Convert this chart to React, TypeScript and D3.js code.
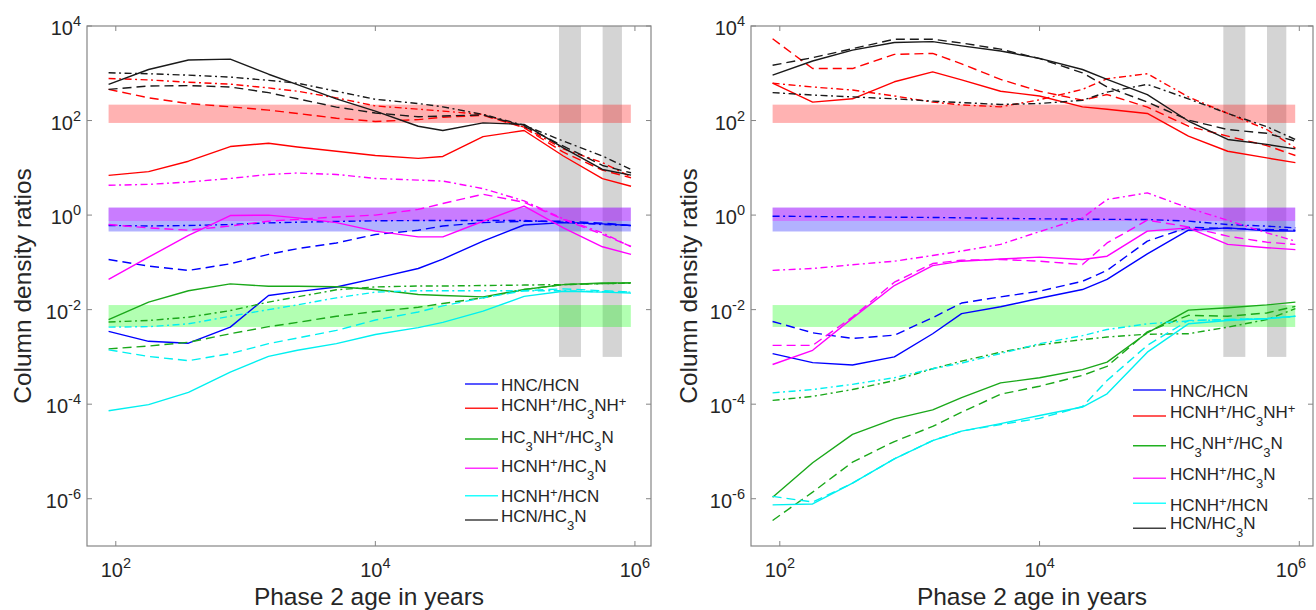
import React from 'react';
import * as d3 from 'd3';

// Model ages (years)
const ages = [88, 179, 363, 762, 1503, 2510, 5010, 10000, 21400, 33100, 67600, 140000, 281000, 562000, 933000];

// ---------- Left panel ----------
const L_HNC_HCN_solid = [-2.46, -2.67, -2.71, -2.37, -1.70, -1.62, -1.52, -1.34, -1.13, -0.93, -0.55, -0.21, -0.16, -0.185, -0.22];
const L_HNC_HCN_dashed = [-0.94, -1.08, -1.17, -1.03, -0.83, -0.71, -0.59, -0.41, -0.32, -0.23, -0.16, -0.13, -0.13, -0.17, -0.22];
const L_HNC_HCN_dashdot = [-0.22, -0.23, -0.22, -0.20, -0.165, -0.15, -0.135, -0.12, -0.115, -0.115, -0.115, -0.115, -0.15, -0.20, -0.22];

const L_HCNHp_HC3NHp_solid = [0.84, 0.92, 1.14, 1.45, 1.52, 1.44, 1.35, 1.26, 1.20, 1.24, 1.66, 1.79, 1.25, 0.77, 0.61];
const L_HCNHp_HC3NHp_dashed = [2.66, 2.48, 2.36, 2.29, 2.22, 2.15, 2.05, 1.98, 2.02, 2.07, 2.11, 1.85, 1.33, 0.95, 0.79];
const L_HCNHp_HC3NHp_dashdot = [2.89, 2.86, 2.81, 2.77, 2.69, 2.62, 2.48, 2.31, 2.24, 2.20, 2.13, 1.86, 1.40, 1.11, 0.81];

const L_HC3NHp_HC3N_solid = [-2.21, -1.84, -1.60, -1.455, -1.505, -1.505, -1.515, -1.575, -1.68, -1.70, -1.73, -1.575, -1.47, -1.434, -1.434];
const L_HC3NHp_HC3N_dashed = [-2.83, -2.77, -2.69, -2.51, -2.36, -2.27, -2.14, -2.04, -1.95, -1.87, -1.75, -1.575, -1.47, -1.45, -1.434];
const L_HC3NHp_HC3N_dashdot = [-2.26, -2.23, -2.16, -2.02, -1.84, -1.73, -1.58, -1.52, -1.50, -1.50, -1.49, -1.48, -1.47, -1.45, -1.44];

const L_HCNHp_HC3N_solid = [-1.36, -0.89, -0.43, -0.01, 0.0, -0.06, -0.16, -0.34, -0.46, -0.46, -0.13, 0.19, -0.27, -0.67, -0.83];
const L_HCNHp_HC3N_dashed = [-0.20, -0.27, -0.32, -0.23, -0.13, -0.09, -0.04, 0.0, 0.12, 0.245, 0.44, 0.27, -0.09, -0.41, -0.66];
const L_HCNHp_HC3N_dashdot = [0.63, 0.65, 0.70, 0.775, 0.86, 0.89, 0.86, 0.775, 0.74, 0.72, 0.56, 0.30, -0.08, -0.375, -0.67];

const L_HCNHp_HCN_solid = [-4.14, -4.01, -3.75, -3.32, -2.99, -2.86, -2.72, -2.525, -2.38, -2.27, -2.03, -1.72, -1.61, -1.63, -1.65];
const L_HCNHp_HCN_dashed = [-2.85, -2.99, -3.08, -2.93, -2.72, -2.60, -2.44, -2.22, -2.05, -1.92, -1.75, -1.60, -1.56, -1.60, -1.63];
const L_HCNHp_HCN_dashdot = [-2.37, -2.36, -2.30, -2.14, -2.00, -1.90, -1.75, -1.63, -1.60, -1.60, -1.60, -1.60, -1.60, -1.62, -1.63];

const L_HCN_HC3N_solid = [2.765, 3.08, 3.28, 3.30, 2.98, 2.76, 2.46, 2.20, 1.88, 1.79, 1.95, 1.92, 1.42, 0.965, 0.845];
const L_HCN_HC3N_dashed = [2.66, 2.73, 2.74, 2.71, 2.59, 2.46, 2.285, 2.16, 2.08, 2.095, 2.12, 1.88, 1.46, 1.05, 0.895];
const L_HCN_HC3N_dashdot = [3.01, 2.99, 2.96, 2.92, 2.85, 2.79, 2.62, 2.45, 2.36, 2.29, 2.13, 1.90, 1.565, 1.25, 0.965];

// ---------- Right panel ----------
const R_HNC_HCN_solid = [-2.93, -3.12, -3.17, -3.00, -2.51, -2.085, -1.94, -1.76, -1.575, -1.36, -0.82, -0.32, -0.27, -0.33, -0.34];
const R_HNC_HCN_dashed = [-2.25, -2.49, -2.61, -2.54, -2.17, -1.86, -1.73, -1.61, -1.40, -1.17, -0.55, -0.26, -0.28, -0.305, -0.32];
const R_HNC_HCN_dashdot = [-0.023, -0.03, -0.037, -0.045, -0.05, -0.058, -0.07, -0.079, -0.085, -0.09, -0.093, -0.128, -0.20, -0.234, -0.27];

const R_HCNHp_HC3NHp_solid = [2.79, 2.39, 2.46, 2.82, 3.03, 2.86, 2.62, 2.52, 2.29, 2.24, 2.15, 1.67, 1.35, 1.21, 1.11];
const R_HCNHp_HC3NHp_dashed = [3.73, 3.10, 3.10, 3.40, 3.42, 3.20, 2.87, 2.62, 2.43, 2.55, 2.285, 1.88, 1.67, 1.47, 1.26];
const R_HCNHp_HC3NHp_dashdot = [2.79, 2.71, 2.645, 2.52, 2.39, 2.33, 2.29, 2.44, 2.66, 2.885, 2.99, 2.50, 2.15, 1.81, 1.42];

const R_HC3NHp_HC3N_solid = [-5.97, -5.24, -4.64, -4.31, -4.12, -3.86, -3.55, -3.44, -3.27, -3.11, -2.49, -2.01, -1.96, -1.90, -1.84];
const R_HC3NHp_HC3N_dashed = [-6.46, -5.86, -5.225, -4.79, -4.47, -4.17, -3.79, -3.62, -3.39, -3.20, -2.47, -2.12, -2.14, -2.07, -1.93];
const R_HC3NHp_HC3N_dashdot = [-3.92, -3.835, -3.69, -3.50, -3.25, -3.09, -2.90, -2.745, -2.635, -2.58, -2.52, -2.51, -2.37, -2.21, -1.98];

const R_HCNHp_HC3N_solid = [-3.16, -2.86, -2.18, -1.49, -1.07, -0.975, -0.93, -0.89, -0.94, -0.87, -0.34, -0.27, -0.62, -0.69, -0.73];
const R_HCNHp_HC3N_dashed = [-2.755, -2.755, -2.155, -1.42, -1.025, -0.954, -0.94, -0.975, -1.046, -0.59, -0.107, -0.25, -0.446, -0.573, -0.62];
const R_HCNHp_HC3N_dashdot = [-1.17, -1.13, -1.05, -0.975, -0.855, -0.76, -0.62, -0.35, -0.06, 0.33, 0.47, 0.15, -0.11, -0.375, -0.55];

const R_HCNHp_HCN_solid = [-6.13, -6.11, -5.67, -5.155, -4.77, -4.57, -4.41, -4.24, -4.06, -3.78, -2.90, -2.30, -2.23, -2.19, -2.14];
const R_HCNHp_HCN_dashed = [-5.95, -6.07, -5.67, -5.155, -4.77, -4.57, -4.43, -4.30, -4.05, -3.50, -2.755, -2.23, -2.21, -2.19, -2.14];
const R_HCNHp_HCN_dashdot = [-3.76, -3.69, -3.58, -3.44, -3.25, -3.13, -2.93, -2.72, -2.55, -2.42, -2.30, -2.24, -2.21, -2.19, -2.14];

const R_HCN_HC3N_solid = [2.96, 3.26, 3.49, 3.65, 3.67, 3.58, 3.47, 3.315, 3.08, 2.87, 2.55, 1.99, 1.60, 1.495, 1.40];
const R_HCN_HC3N_dashed = [3.17, 3.33, 3.52, 3.72, 3.72, 3.64, 3.51, 3.31, 3.01, 2.71, 2.39, 2.01, 1.81, 1.73, 1.565];
const R_HCN_HC3N_dashdot = [2.59, 2.54, 2.50, 2.46, 2.41, 2.38, 2.34, 2.36, 2.43, 2.60, 2.765, 2.46, 2.15, 1.87, 1.60];

// Observed ranges (horizontal bands) and age ranges (vertical grey bars)
const bandAges = [88, 930000];
const redBand = [89, 217];
const blueBand = [0.45, 1.44];
const magentaBand = [0.75, 1.44];
const greenBand = [0.0043, 0.0125];
const greyBars = [[2.6e5, 3.84e5], [5.64e5, 7.94e5]];
const greyBarRatio = [1e-3, 1e4];

const xTickExps = [2, 4, 6];
const yTickExps = [4, 2, 0, -2, -4, -6];

type Seg = [string, 'n' | 'sup' | 'sub'];
const legendLabels: Seg[][] = [
  [['HNC/HCN', 'n']],
  [['HCNH', 'n'], ['+', 'sup'], ['/HC', 'n'], ['3', 'sub'], ['NH', 'n'], ['+', 'sup']],
  [['HC', 'n'], ['3', 'sub'], ['NH', 'n'], ['+', 'sup'], ['/HC', 'n'], ['3', 'sub'], ['N', 'n']],
  [['HCNH', 'n'], ['+', 'sup'], ['/HC', 'n'], ['3', 'sub'], ['N', 'n']],
  [['HCNH', 'n'], ['+', 'sup'], ['/HCN', 'n']],
  [['HCN/HC', 'n'], ['3', 'sub'], ['N', 'n']],
];

const COLORS = ['#0000ff', '#ff0000', '#1aa81a', '#ff00ff', '#00f0f0', '#1a1a1a'];
const LEGEND_COLORS = ['#2020ff', '#ff2020', '#20b020', '#ff30ff', '#20ffff', '#404040'];
const DASH: Record<string, string | undefined> = { solid: undefined, dashed: '9 5', dashdot: '7 3.5 2 3.5' };

const leftSeries = [
  [L_HNC_HCN_solid, L_HNC_HCN_dashed, L_HNC_HCN_dashdot],
  [L_HCNHp_HC3NHp_solid, L_HCNHp_HC3NHp_dashed, L_HCNHp_HC3NHp_dashdot],
  [L_HC3NHp_HC3N_solid, L_HC3NHp_HC3N_dashed, L_HC3NHp_HC3N_dashdot],
  [L_HCNHp_HC3N_solid, L_HCNHp_HC3N_dashed, L_HCNHp_HC3N_dashdot],
  [L_HCNHp_HCN_solid, L_HCNHp_HCN_dashed, L_HCNHp_HCN_dashdot],
  [L_HCN_HC3N_solid, L_HCN_HC3N_dashed, L_HCN_HC3N_dashdot],
];
const rightSeries = [
  [R_HNC_HCN_solid, R_HNC_HCN_dashed, R_HNC_HCN_dashdot],
  [R_HCNHp_HC3NHp_solid, R_HCNHp_HC3NHp_dashed, R_HCNHp_HC3NHp_dashdot],
  [R_HC3NHp_HC3N_solid, R_HC3NHp_HC3N_dashed, R_HC3NHp_HC3N_dashdot],
  [R_HCNHp_HC3N_solid, R_HCNHp_HC3N_dashed, R_HCNHp_HC3N_dashdot],
  [R_HCNHp_HCN_solid, R_HCNHp_HCN_dashed, R_HCNHp_HCN_dashdot],
  [R_HCN_HC3N_solid, R_HCN_HC3N_dashed, R_HCN_HC3N_dashdot],
];

const FONT = "'Liberation Sans', Arial, Helvetica, sans-serif";
const TEXT = '#262626';
const AXIS = '#858585';

interface PanelCfg {
  x0: number; x1: number; xMax: number; yLabelX: number;
  legLineX: [number, number]; legTextX: number; legLineY: number[]; legTextY: number[];
  series: number[][][];
}

const Y0 = 26, Y1 = 546;

function SegText({ x, y, segs, size, small, supDy, subDy, anchor }: any) {
  let cur = 0;
  return (
    <text x={x} y={y} fontSize={size} fontFamily={FONT} fill={TEXT} textAnchor={anchor || 'start'}>
      {segs.map((s: Seg, i: number) => {
        const target = s[1] === 'sup' ? supDy : s[1] === 'sub' ? subDy : 0;
        const dy = target - cur;
        cur = target;
        return (
          <tspan key={i} dy={dy} fontSize={s[1] === 'n' ? size : small}>{s[0]}</tspan>
        );
      })}
    </text>
  );
}

function Panel({ cfg }: { cfg: PanelCfg }) {
  const x = d3.scaleLog().domain([60, cfg.xMax]).range([cfg.x0, cfg.x1]);
  const y = d3.scaleLog().domain([1e-7, 1e4]).range([Y1, Y0]);
  const line = d3.line<[number, number]>().x(d => x(d[0])).y(d => y(d[1]));
  const styles = ['solid', 'dashed', 'dashdot'];
  const bandRect = (r: number[], fill: string, op: number, key: string) => (
    <rect key={key} x={x(bandAges[0])} width={x(bandAges[1]) - x(bandAges[0])}
      y={y(r[1])} height={y(r[0]) - y(r[1])} fill={fill} fillOpacity={op} />
  );
  const tick = 5;
  return (
    <g>
      {greyBars.map((b, i) => (
        <rect key={'g' + i} x={x(b[0])} width={x(b[1]) - x(b[0])} y={y(greyBarRatio[1])}
          height={y(greyBarRatio[0]) - y(greyBarRatio[1])} fill="#808080" fillOpacity={0.34} />
      ))}
      {bandRect(redBand, '#ff0000', 0.3, 'red')}
      {bandRect(blueBand, '#0000ff', 0.3, 'blue')}
      {bandRect(magentaBand, '#ff00ff', 0.3, 'mag')}
      {bandRect(greenBand, '#00ff00', 0.3, 'green')}
      {cfg.series.map((grp, ci) => grp.map((vals, si) => (
        <path key={ci + '-' + si}
          d={line(vals.map((e, k) => [ages[k], Math.pow(10, e)] as [number, number])) || ''}
          fill="none" stroke={COLORS[ci]} strokeWidth={1.4}
          strokeDasharray={DASH[styles[si]]} strokeLinejoin="round" />
      )))}
      {/* axes box */}
      <rect x={cfg.x0} y={Y0} width={cfg.x1 - cfg.x0} height={Y1 - Y0} fill="none" stroke={AXIS} strokeWidth={1.2} />
      {xTickExps.map(e => {
        const px = x(Math.pow(10, e));
        const halfW = 17;
        const cx = Math.min(px, 1308 - halfW);
        return (
          <g key={'xt' + e}>
            <line x1={px} x2={px} y1={Y1} y2={Y1 - tick} stroke={AXIS} strokeWidth={1} />
            <line x1={px} x2={px} y1={Y0} y2={Y0 + tick} stroke={AXIS} strokeWidth={1} />
            <SegText x={cx} y={577} segs={[['10', 'n'], [String(e), 'sup']]} size={20} small={14.5} supDy={-9} subDy={0} anchor="middle" />
          </g>
        );
      })}
      {yTickExps.map(e => {
        const py = y(Math.pow(10, e));
        return (
          <g key={'yt' + e}>
            <line x1={cfg.x0} x2={cfg.x0 + tick} y1={py} y2={py} stroke={AXIS} strokeWidth={1} />
            <line x1={cfg.x1} x2={cfg.x1 - tick} y1={py} y2={py} stroke={AXIS} strokeWidth={1} />
            <SegText x={cfg.x0 - 6} y={py + 9} segs={[['10', 'n'], [String(e), 'sup']]} size={20} small={14.5} supDy={-9} subDy={0} anchor="end" />
          </g>
        );
      })}
      <text x={(cfg.x0 + cfg.x1) / 2} y={605} fontSize={24.5} fontFamily={FONT} fill={TEXT} textAnchor="middle">Phase 2 age in years</text>
      <text transform={`translate(${cfg.yLabelX},${(Y0 + Y1) / 2}) rotate(-90)`} fontSize={24.5} fontFamily={FONT} fill={TEXT} textAnchor="middle">Column density ratios</text>
      {legendLabels.map((segs, i) => (
        <g key={'leg' + i}>
          <line x1={cfg.legLineX[0]} x2={cfg.legLineX[1]} y1={cfg.legLineY[i]} y2={cfg.legLineY[i]} stroke={LEGEND_COLORS[i]} strokeWidth={1.6} />
          <SegText x={cfg.legTextX} y={cfg.legTextY[i]} segs={segs} size={17} small={13} supDy={-5} subDy={8} />
        </g>
      ))}
    </g>
  );
}

const leftCfg: PanelCfg = {
  x0: 87, x1: 651, xMax: 1.33e6, yLabelX: 31,
  legLineX: [465, 498], legTextX: 501,
  legLineY: [384, 408.3, 439, 468.3, 495.7, 520],
  legTextY: [390.7, 410.7, 442.7, 472.3, 502.3, 521.7],
  series: leftSeries,
};
const rightCfg: PanelCfg = {
  x0: 751, x1: 1313, xMax: 1.275e6, yLabelX: 697,
  legLineX: [1133, 1166], legTextX: 1170,
  legLineY: [390, 416, 445.7, 478.3, 503.3, 528.3],
  legTextY: [396.7, 418.3, 449.3, 480, 510.7, 529.3],
  series: rightSeries,
};

export default function App() {
  return (
    <div style={{ position: 'absolute', left: 0, top: 0 }}>
      <svg width={1316} height={610} style={{ display: 'block', background: '#fff' }}>
        <Panel cfg={leftCfg} />
        <Panel cfg={rightCfg} />
      </svg>
    </div>
  );
}
